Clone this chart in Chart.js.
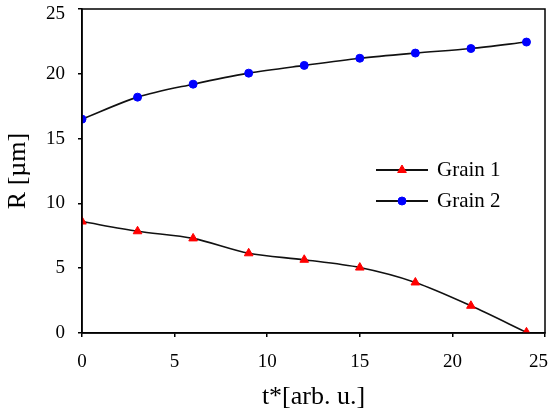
<!DOCTYPE html>
<html>
<head>
<meta charset="utf-8">
<script src="https://cdn.jsdelivr.net/npm/chart.js@4"></script>
<style>
html,body{margin:0;padding:0;background:#fff;}
#wrap{width:551px;height:418px;}
</style>
</head>
<body>
<div id="wrap"><canvas id="c" width="551" height="418"></canvas></div>
<script>
const tValues = [0, 3, 6, 9, 12, 15, 18, 21, 24];
const grain1 = [8.6, 7.85, 7.3, 6.15, 5.65, 5.05, 3.9, 2.1, 0.05];
const grain2 = [16.5, 18.2, 19.2, 20.05, 20.65, 21.2, 21.6, 21.95, 22.45];
const seriesNames = ["Grain 1", "Grain 2"];
const xTitle = "t*[arb. u.]";
const yTitle = "R [µm]";
const xTicks = [0, 5, 10, 15, 20, 25];
const yTicks = [0, 5, 10, 15, 20, 25];

const FONT = "'Liberation Serif', 'Times New Roman', serif";
const TICK_FONT = "19px " + FONT;

const frame = {
  id: 'frame',
  afterDatasetsDraw(chart) {
    const a = chart.chartArea, ctx = chart.ctx;
    ctx.save();
    ctx.strokeStyle = '#000';
    ctx.lineWidth = 1.5;
    ctx.strokeRect(a.left, a.top, a.right - a.left, a.bottom - a.top);
    ctx.restore();
  }
};

// tick labels drawn from the scales, kept inside the canvas like the original
const tickLabels = {
  id: 'tickLabels',
  afterDraw(chart) {
    const ctx = chart.ctx, xs = chart.scales.x, ys = chart.scales.y;
    const W = chart.width;
    ctx.save();
    ctx.fillStyle = '#000';
    ctx.font = TICK_FONT;
    ctx.textBaseline = 'middle';
    xs.ticks.forEach(t => {
      const lbl = String(t.value);
      const w = ctx.measureText(lbl).width;
      let cx = xs.getPixelForValue(t.value);
      cx = Math.min(cx, W - 3 - w / 2);
      ctx.textAlign = 'center';
      ctx.fillText(lbl, cx, xs.top + 29);
    });
    ys.ticks.forEach(t => {
      const lbl = String(t.value);
      let cy = ys.getPixelForValue(t.value);
      cy = Math.max(cy, 14);
      ctx.textAlign = 'right';
      ctx.fillText(lbl, ys.right - 17, cy);
    });
    ctx.restore();
  }
};

const insideLegend = {
  id: 'insideLegend',
  afterDraw(chart) {
    const ctx = chart.ctx;
    const x0 = 376, x1 = 428, tx = 437;
    const rows = [170, 201];
    ctx.save();
    chart.data.datasets.forEach((ds, i) => {
      const y = rows[i];
      ctx.strokeStyle = ds.borderColor;
      ctx.lineWidth = 1.8;
      ctx.beginPath(); ctx.moveTo(x0, y); ctx.lineTo(x1, y); ctx.stroke();
      ctx.fillStyle = ds.pointBackgroundColor;
      ctx.strokeStyle = ds.pointBorderColor;
      ctx.lineWidth = 1;
      Chart.helpers.drawPoint(ctx, {pointStyle: ds.pointStyle, radius: ds.pointRadius, rotation: 0, borderWidth: 1}, (x0 + x1) / 2, y);
      ctx.fillStyle = '#000';
      ctx.font = "21px " + FONT;
      ctx.textBaseline = 'middle';
      ctx.textAlign = 'left';
      ctx.fillText(ds.label, tx, y);
    });
    ctx.restore();
  }
};

new Chart(document.getElementById('c'), {
  type: 'line',
  data: {
    datasets: [
      {
        label: seriesNames[0],
        data: tValues.map((t, i) => ({x: t, y: grain1[i]})),
        borderColor: '#111',
        borderWidth: 1.6,
        pointStyle: 'triangle',
        pointRadius: 5,
        pointBackgroundColor: '#ff0000',
        pointBorderColor: '#ff0000',
        pointBorderWidth: 1,
        tension: 0.3,
        fill: false
      },
      {
        label: seriesNames[1],
        data: tValues.map((t, i) => ({x: t, y: grain2[i]})),
        borderColor: '#111',
        borderWidth: 1.6,
        pointStyle: 'circle',
        pointRadius: 4,
        pointBackgroundColor: '#0000ff',
        pointBorderColor: '#0000ff',
        pointBorderWidth: 1,
        tension: 0.3,
        fill: false
      }
    ]
  },
  options: {
    responsive: false,
    animation: false,
    devicePixelRatio: 1,
    layout: {padding: {left: 0, right: 6, top: 9, bottom: 0}},
    plugins: {
      legend: {display: false},
      tooltip: {enabled: false}
    },
    scales: {
      x: {
        type: 'linear',
        min: 0, max: 25,
        afterBuildTicks: (s) => { s.ticks = xTicks.map(v => ({value: v})); },
        afterFit: (s) => { s.height = 85; s.paddingLeft = 0; s.paddingRight = 0; },
        grid: {display: true, drawOnChartArea: false, drawTicks: true, tickLength: 4, color: '#000', lineWidth: 1.5},
        border: {display: true, color: '#000', width: 1.5},
        ticks: {display: false},
        title: {display: true, text: xTitle, color: '#000', font: {family: FONT, size: 26}, padding: {top: 0, bottom: 5}}
      },
      y: {
        type: 'linear',
        min: 0, max: 25,
        afterBuildTicks: (s) => { s.ticks = yTicks.map(v => ({value: v})); },
        afterFit: (s) => { s.width = 82; s.paddingTop = 0; s.paddingBottom = 0; },
        grid: {display: true, drawOnChartArea: false, drawTicks: true, tickLength: 4, color: '#000', lineWidth: 1.5},
        border: {display: true, color: '#000', width: 1.5},
        ticks: {display: false},
        title: {display: true, text: yTitle, color: '#000', font: {family: FONT, size: 26}, padding: {top: 3, bottom: 3}}
      }
    }
  },
  plugins: [frame, tickLabels, insideLegend]
});
</script>
</body>
</html>
